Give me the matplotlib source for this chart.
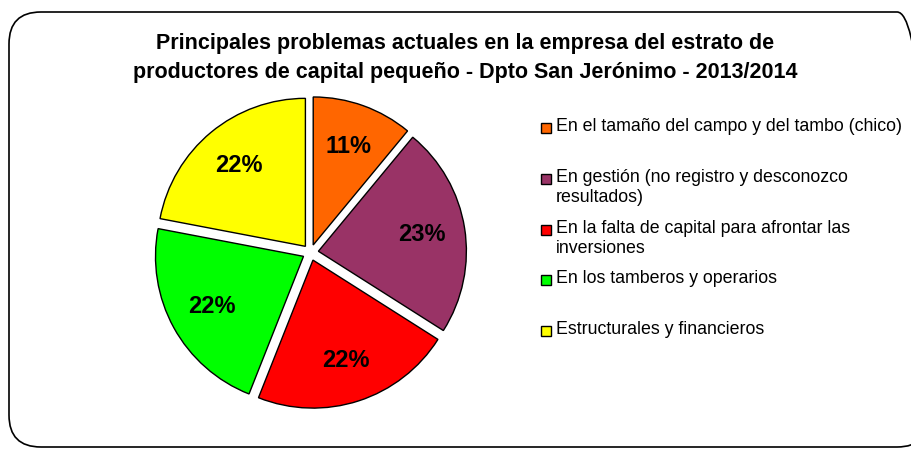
import matplotlib
matplotlib.use("Agg")
import matplotlib.pyplot as plt
from matplotlib.patches import FancyBboxPatch, Rectangle

plt.rcParams['font.family'] = ['Liberation Sans', 'DejaVu Sans']

title = ("Principales problemas actuales en la empresa del estrato de\n"
         "productores de capital pequeño - Dpto San Jerónimo - 2013/2014")
labels = [
    "En el tamaño del campo y del tambo (chico)",
    "En gestión (no registro y desconozco\nresultados)",
    "En la falta de capital para afrontar las\ninversiones",
    "En los tamberos y operarios",
    "Estructurales y financieros",
]
values = [11, 23, 22, 22, 22]
colors = ["#FF6600", "#993366", "#FF0000", "#00FF00", "#FFFF00"]

W, H = 911, 449
fig = plt.figure(figsize=(W / 100, H / 100), dpi=100)

# rounded outer frame
frame = FancyBboxPatch((9 / W, 2 / H), 920 / W, 435 / H,
                       boxstyle="round,pad=0,rounding_size=0.035",
                       transform=fig.transFigure, fill=False,
                       edgecolor="black", linewidth=1.2,
                       mutation_aspect=W / H)
fig.patches.append(frame)

fig.text(465 / W, 1 - 58 / H, title, ha="center", va="center",
         fontsize=15.5, fontweight="bold", linespacing=1.45)

# pie axes: radius 148 px, centred at (310.5, 252.5)
cx, cy, half = 310.5, 252.5, 170
ax = fig.add_axes([(cx - half) / W, (H - cy - half) / H, 2 * half / W, 2 * half / H])
lim = half / 148

wedges, texts, autotexts = ax.pie(
    values, colors=colors, startangle=90, counterclock=False,
    explode=[0.054] * len(values), radius=1.0,
    autopct=lambda p: f"{p:.0f}%", pctdistance=0.71,
    wedgeprops=dict(edgecolor="black", linewidth=1.0),
    textprops=dict(fontsize=17, fontweight="bold", color="black"),
)
ax.set_xlim(-lim, lim)
ax.set_ylim(-lim, lim)
ax.set_aspect("equal")
ax.axis("off")

# legend drawn by hand to keep Excel-like spacing
ys = [128, 179, 230, 280, 331]
for lab, col, y in zip(labels, colors, ys):
    fig.patches.append(Rectangle((541 / W, 1 - (y + 5) / H), 10 / W, 10 / H,
                                 transform=fig.transFigure, facecolor=col,
                                 edgecolor="black", linewidth=1.0))
    fig.text(556 / W, 1 - (y - 10) / H, lab, ha="left", va="top",
             fontsize=12.8, linespacing=1.22)

fig.savefig("out.png", dpi=100)
